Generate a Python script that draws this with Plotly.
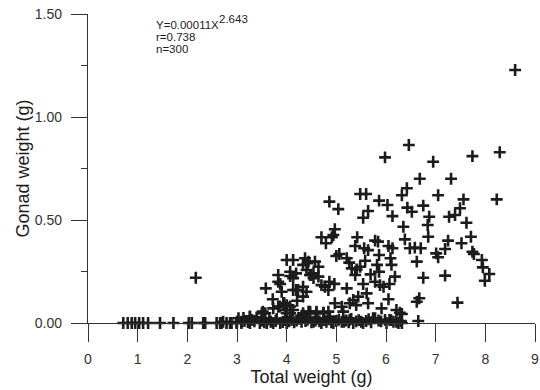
import plotly.graph_objects as go

# Total weight (g)
total_weight = [
    8.60,
    6.46, 6.95, 7.74, 8.29, 5.98,
    6.68, 7.31, 6.42, 6.32, 7.05, 7.56, 8.23,
    6.43, 6.52, 6.75, 6.87, 7.27, 7.39, 7.49,
    6.35, 6.84, 7.62, 6.38, 6.85,
    6.48, 6.58, 6.70, 7.25, 7.71, 7.52, 7.19, 7.01, 7.05, 7.74, 7.77, 7.93, 6.62, 7.95, 8.08, 7.99,
    6.75, 7.19, 6.62, 6.67, 7.44, 6.32, 6.65, 6.32,
    5.48, 5.60, 5.86, 6.03, 5.64, 5.54, 6.13, 4.86, 5.04, 4.97, 4.70, 4.91, 4.79, 4.94, 5.42,
    5.38, 5.56, 5.64, 5.78, 5.84, 6.05, 6.13, 5.86, 6.09, 5.00, 5.06, 5.21, 5.26, 5.31, 5.41,
    5.38, 5.48, 5.58, 5.82, 5.86, 5.69, 6.11, 6.18, 5.78, 5.88, 5.95, 6.07, 5.54, 5.21, 5.61,
    5.44, 5.34, 5.27, 5.40, 5.64, 6.05, 5.91, 6.21, 6.28, 4.97, 5.11, 5.14, 4.84, 4.74, 4.60,
    4.47, 4.33,
    4.37, 4.33, 4.44, 4.57, 4.64, 4.40, 4.47, 4.54, 4.64, 4.70, 4.77, 4.86, 4.84, 4.33, 4.40, 4.33,
    4.54, 4.70, 4.94, 5.11, 5.27, 5.34, 5.54, 5.74, 5.98, 6.01, 6.25, 5.78, 6.07, 6.21,
    2.17, 4.00, 4.13, 3.83, 3.83, 3.87, 3.58, 3.90, 3.72, 4.07, 4.19, 4.42, 4.13, 4.23, 4.21,
    3.73, 3.83, 3.93, 4.00, 3.52, 3.26, 3.40, 4.07, 4.13, 4.30, 4.44, 3.03, 3.00, 3.09, 2.72,
    2.86, 2.66, 2.36, 2.09, 3.46, 3.60, 3.73, 3.87, 4.00, 3.26,
    0.71, 0.80, 0.88, 0.95, 1.03, 1.11, 1.21, 1.45, 1.72, 2.03, 2.32, 2.59, 2.69, 2.79, 2.89,
    2.99, 3.09,
    4.49, 4.54, 4.07, 4.13, 4.96, 4.19, 3.95, 4.07, 3.86, 3.97, 4.00, 3.50, 3.57, 3.26, 3.40,
    3.13, 4.33, 4.47, 4.60, 4.74, 4.87,
    3.15, 3.22, 3.30, 3.35, 3.50, 3.55, 3.65, 3.68, 3.78, 3.80, 3.92, 3.97, 4.05, 4.10, 4.15,
    4.20, 4.25, 4.30, 4.38, 4.42, 4.50, 4.58, 4.62, 4.66, 4.75, 4.80, 4.85, 4.90, 5.00, 5.05,
    5.15, 5.20, 5.25, 5.30, 5.40, 5.45, 5.50, 5.60, 5.65, 5.70, 5.85, 5.90, 6.10, 6.15, 6.30,
]

# Gonad weight (g)
gonad_weight = [
    1.228,
    0.864, 0.783, 0.810, 0.829, 0.804,
    0.700, 0.700, 0.654, 0.620, 0.620, 0.600, 0.600,
    0.560, 0.540, 0.570, 0.516, 0.516, 0.524, 0.557,
    0.467, 0.476, 0.487, 0.406, 0.419,
    0.363, 0.366, 0.363, 0.400, 0.419, 0.387, 0.359, 0.338, 0.319, 0.346, 0.335, 0.306, 0.298, 0.270, 0.238, 0.205,
    0.220, 0.230, 0.103, 0.120, 0.099, 0.044, 0.010, 0.000,
    0.626, 0.626, 0.594, 0.573, 0.544, 0.511, 0.519, 0.589, 0.553, 0.455, 0.416, 0.416, 0.387, 0.427, 0.416,
    0.374, 0.363, 0.354, 0.400, 0.395, 0.374, 0.363, 0.330, 0.314, 0.325, 0.335, 0.314, 0.293, 0.265, 0.260,
    0.233, 0.273, 0.302, 0.282, 0.249, 0.236, 0.282, 0.225, 0.200, 0.184, 0.176, 0.189, 0.189, 0.168, 0.144,
    0.128, 0.112, 0.096, 0.087, 0.096, 0.115, 0.071, 0.063, 0.050, 0.096, 0.079, 0.055, 0.055, 0.050, 0.055,
    0.055, 0.039,
    0.314, 0.282, 0.298, 0.298, 0.273, 0.257, 0.233, 0.241, 0.225, 0.184, 0.176, 0.200, 0.160, 0.176, 0.152, 0.128,
    0.006, 0.000, 0.000, 0.006, 0.015, 0.000, 0.000, 0.023, 0.015, 0.000, 0.000, 0.023, 0.015, 0.006,
    0.220, 0.306, 0.306, 0.233, 0.200, 0.189, 0.168, 0.152, 0.115, 0.249, 0.241, 0.290, 0.160, 0.160, 0.108,
    0.071, 0.079, 0.096, 0.087, 0.055, 0.028, 0.028, 0.047, 0.063, 0.034, 0.055, 0.023, 0.006, 0.006, 0.006,
    0.000, 0.000, 0.000, 0.000, 0.000, 0.000, 0.000, 0.000, 0.000, 0.000,
    0.000, 0.000, 0.000, 0.000, 0.000, 0.000, 0.000, 0.000, 0.000, 0.000, 0.000, 0.000, 0.000, 0.000, 0.000,
    0.000, 0.000,
    0.233, 0.218, 0.228, 0.218, 0.190, 0.160, 0.097, 0.080, 0.080, 0.063, 0.048, 0.047, 0.047, 0.032, 0.024,
    0.024, 0.047, 0.047, 0.047, 0.047, 0.031,
    0.010, 0.005, 0.015, 0.008, 0.012, 0.004, 0.018, 0.006, 0.010, 0.020, 0.005, 0.014, 0.008, 0.016, 0.004,
    0.012, 0.020, 0.006, 0.010, 0.016, 0.004, 0.012, 0.020, 0.008, 0.014, 0.006, 0.018, 0.004, 0.010, 0.016,
    0.006, 0.012, 0.004, 0.020, 0.008, 0.014, 0.006, 0.010, 0.018, 0.004, 0.012, 0.008, 0.014, 0.006, 0.010,
]

x_ticks = [0, 1, 2, 3, 4, 5, 6, 7, 8, 9]
y_ticks = [0.0, 0.5, 1.0, 1.5]
y_tick_labels = ["0.00", "0.50", "1.00", "1.50"]

equation = "Y=0.00011X"
exponent = "2.643"
r_text = "r=0.738"
n_text = "n=300"

FONT = "Liberation Sans, Arial, sans-serif"
INK = "#1c1c1c"

fig = go.Figure()
fig.add_trace(go.Scatter(
    x=total_weight, y=gonad_weight, mode="markers",
    marker=dict(symbol="cross-thin", size=8.5, color=INK,
                line=dict(color=INK, width=2.6)),
    cliponaxis=False, showlegend=False, hoverinfo="skip",
))

fig.update_layout(
    width=540, height=390,
    margin=dict(l=88, r=5, t=14, b=67),
    paper_bgcolor="white", plot_bgcolor="white",
    font=dict(family=FONT, color=INK, size=14),
    xaxis=dict(
        range=[0, 9], tickvals=x_ticks, ticktext=[str(v) for v in x_ticks],
        showgrid=False, zeroline=False, showline=True, linecolor="#333", linewidth=1.3,
        ticks="outside", ticklen=18, tickwidth=1.3, tickcolor="#333",
        ticklabelstandoff=5,
        tickfont=dict(size=14, family=FONT, color="#333"),
        title=dict(text="Total weight (g)", font=dict(size=18, family=FONT, color=INK), standoff=3),
        automargin=False,
    ),
    yaxis=dict(
        range=[0, 1.5], tickvals=y_ticks, ticktext=y_tick_labels,
        showgrid=False, zeroline=False, showline=True, linecolor="#333", linewidth=1.3,
        ticks="outside", ticklen=16, tickwidth=1.3, tickcolor="#333",
        ticklabelstandoff=6,
        minor=dict(dtick=0.25, ticks="outside", ticklen=6, tickwidth=1.3, tickcolor="#333"),
        tickfont=dict(size=14, family=FONT, color="#333"),
        title=dict(text="Gonad weight (g)", font=dict(size=18, family=FONT, color=INK), standoff=0),
        automargin=False,
    ),
)

ann_font = dict(size=11.5, family=FONT, color=INK)
fig.add_annotation(x=1.33, y=1.447, xref="x", yref="y", text=equation, showarrow=False,
                   xanchor="left", yanchor="middle", font=ann_font)
fig.add_annotation(x=2.60, y=1.474, xref="x", yref="y", text=exponent, showarrow=False,
                   xanchor="left", yanchor="middle", font=ann_font)
fig.add_annotation(x=1.33, y=1.386, xref="x", yref="y", text=r_text, showarrow=False,
                   xanchor="left", yanchor="middle", font=ann_font)
fig.add_annotation(x=1.33, y=1.330, xref="x", yref="y", text=n_text, showarrow=False,
                   xanchor="left", yanchor="middle", font=ann_font)

fig.write_html("out.html")
